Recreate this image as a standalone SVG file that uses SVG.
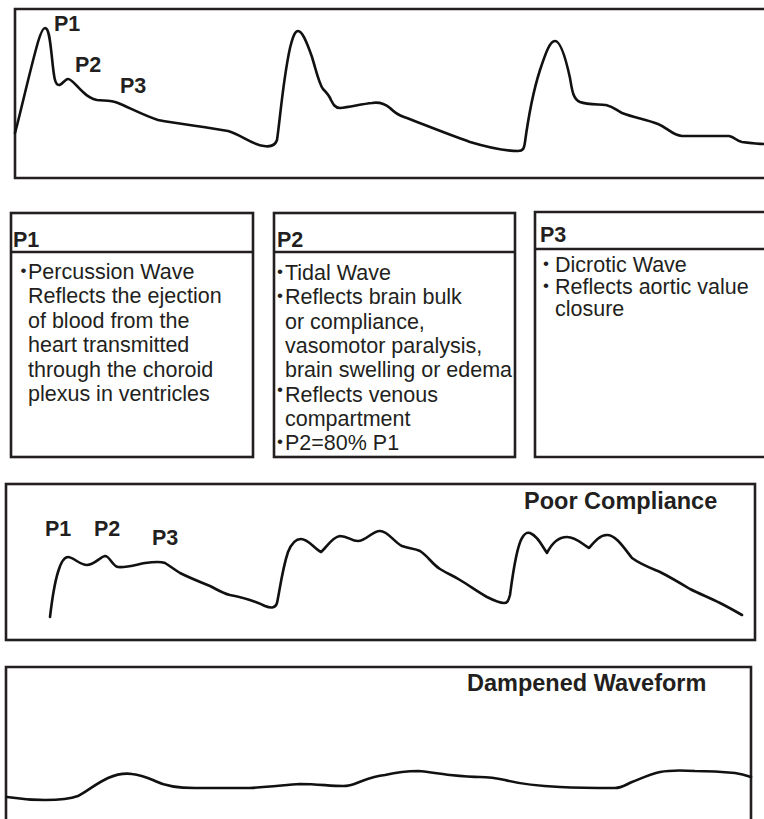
<svg xmlns="http://www.w3.org/2000/svg" width="764" height="819" viewBox="0 0 764 819">
<style>
.frame{fill:none;stroke:#231f20;stroke-width:2.6}
.wave{fill:none;stroke:#111;stroke-width:2.6;stroke-linejoin:round;stroke-linecap:round}
.lbl{font-family:"Liberation Sans",Arial,Helvetica,sans-serif;font-weight:bold;font-size:21.5px;fill:#231f20}
.ttl{font-family:"Liberation Sans",Arial,Helvetica,sans-serif;font-weight:bold;font-size:23.5px;fill:#231f20}
.body{font-family:"Liberation Sans",Arial,Helvetica,sans-serif;font-size:21.5px;fill:#231f20}
.bul{font-family:"Liberation Sans",Arial,Helvetica,sans-serif;font-size:17px;fill:#231f20}
</style>
<rect width="764" height="819" fill="#fff"/>

<g id="normal-waveform">
<path class="frame" d="M764,9 H15 V178 H764"/>
<path class="wave" d="M15,133 C20,115 30,70 38,42 C41,32 43,28 45,28 C49,28 50,40 52,58 C54,78 55,85 59,85 C62,85 65,79 68,79 C72,79 76,86 83,92 C88,97 92,99 97,100 C104,101 110,100 118,103 C130,108 145,116 158,120 C180,124 205,127 228,131 C240,134 252,145 264,146 C270,147 275,146 277,140 C280,120 283,80 290,48 C293,36 295,31 298,31 C302,31 306,40 312,57 C316,70 319,84 323,89 C326,92 329,95 331,100 C333,104 335,108 340,108 C350,107 362,104 372,103 C378,102 384,103 390,108 C395,113 398,115 404,117 C425,125 450,135 470,142 C490,148 505,151 518,151 C523,151 524,149 525,142 C528,120 532,95 540,70 C546,52 550,41 555,41 C560,41 565,55 570,78 C572,90 573,99 580,102 C588,105 600,104 606,105 C614,107 616,110 622,113 C635,118 645,119 658,124 C668,128 672,135 682,136 C700,136 718,136 729,136 C735,137 736,141 742,142 C750,143 758,144 764,144"/>
<text class="lbl" x="54" y="30.5">P1</text>
<text class="lbl" x="75" y="71.5">P2</text>
<text class="lbl" x="120" y="93">P3</text>
</g>

<g id="box-p1">
<rect class="frame" x="11" y="213" width="242" height="244"/>
<line class="frame" x1="11" y1="252" x2="253" y2="252"/>
<text class="lbl" x="13" y="247">P1</text>
<text class="bul" x="20.5" y="276">•</text>
<text class="body" x="28" y="279">Percussion Wave</text>
<text class="body" x="28" y="303.4">Reflects the ejection</text>
<text class="body" x="28" y="327.8">of blood from the</text>
<text class="body" x="28" y="352.2">heart transmitted</text>
<text class="body" x="28" y="376.6">through the choroid</text>
<text class="body" x="28" y="401">plexus in ventricles</text>
</g>

<g id="box-p2">
<rect class="frame" x="274" y="213" width="241" height="244"/>
<line class="frame" x1="274" y1="252" x2="515" y2="252"/>
<text class="lbl" x="277" y="247">P2</text>
<text class="bul" x="277" y="277">•</text>
<text class="body" x="285" y="280">Tidal Wave</text>
<text class="bul" x="277" y="301.3">•</text>
<text class="body" x="285" y="304.3">Reflects brain bulk</text>
<text class="body" x="285" y="328.6">or compliance,</text>
<text class="body" x="285" y="352.9">vasomotor paralysis,</text>
<text class="body" x="285" y="377.2">brain swelling or edema</text>
<text class="bul" x="277" y="395">•</text>
<text class="body" x="285" y="401.5">Reflects venous</text>
<text class="body" x="285" y="425.8">compartment</text>
<text class="bul" x="277" y="447">•</text>
<text class="body" x="285" y="450">P2=80% P1</text>
</g>

<g id="box-p3">
<path class="frame" d="M764,212 H535 V457 H764"/>
<line class="frame" x1="535" y1="249" x2="764" y2="249"/>
<text class="lbl" x="540" y="242">P3</text>
<text class="bul" x="543" y="269">•</text>
<text class="body" x="555" y="272">Dicrotic Wave</text>
<text class="bul" x="543" y="291">•</text>
<text class="body" x="555" y="294">Reflects aortic value</text>
<text class="body" x="555" y="316">closure</text>
</g>

<g id="poor-compliance">
<rect class="frame" x="6" y="484" width="749" height="156"/>
<path class="wave" d="M50,617 C52,600 54,585 58,572 C61,562 64,557 68,557 C73,557 80,565 87,565 C94,565 100,557 105,556 C110,556 112,566 118,567 C125,568 135,565 145,563 C152,562 160,561 165,563 C170,566 172,568 180,573 C190,578 200,582 210,586 C218,590 222,593 230,595 C245,598 255,601 265,606 C270,608 275,609 277,603 C279,595 282,570 288,552 C292,542 296,539 301,539 C308,539 314,548 321,552 C326,548 332,537 340,536 C348,536 351,541 358,541 C366,541 372,531 380,531 C388,531 394,542 402,546 C410,549 414,548 420,551 C428,556 432,564 440,569 C448,574 452,575 460,580 C470,586 478,592 487,597 C493,600 500,603 504,603 C507,603 508,602 510,595 C512,580 516,548 522,538 C525,533 527,532 530,533 C538,536 542,546 547,553 C552,543 558,537 567,537 C576,537 582,544 589,548 C595,541 600,535 607,535 C616,535 624,548 632,558 C640,564 648,567 660,572 C670,577 680,583 690,589 C700,594 710,598 720,603 C728,607 735,611 742,615"/>
<text class="ttl" x="524" y="508.5">Poor Compliance</text>
<text class="lbl" x="45" y="535.5">P1</text>
<text class="lbl" x="94" y="535.5">P2</text>
<text class="lbl" x="152" y="545">P3</text>
</g>

<g id="dampened-waveform">
<path class="frame" d="M6,820 V667 H751 V820"/>
<path class="wave" d="M7,797 C20,799 35,800 45,800 C58,800 70,799 78,796 C88,791 95,784 108,778 C115,775 125,773 132,774 C142,775 148,778 155,781 C165,786 178,788 195,788 C215,788 235,788 250,788 C270,787 285,785 300,784 C318,784 330,786 343,786 C352,786 356,783 362,781 C370,778 376,776 385,775 C398,772 408,771 418,771 C430,772 440,774 450,775 C460,776 470,777 480,777 C490,777 496,778 505,780 C520,784 540,786 560,787 C580,788 600,788 615,788 C622,788 625,785 632,782 C640,779 650,774 660,772 C670,770 680,770 695,771 C710,771 725,772 735,773 C742,774 748,776 751,777"/>
<text class="ttl" x="467" y="691">Dampened Waveform</text>
</g>

<g id="connectors"></g>
</svg>
